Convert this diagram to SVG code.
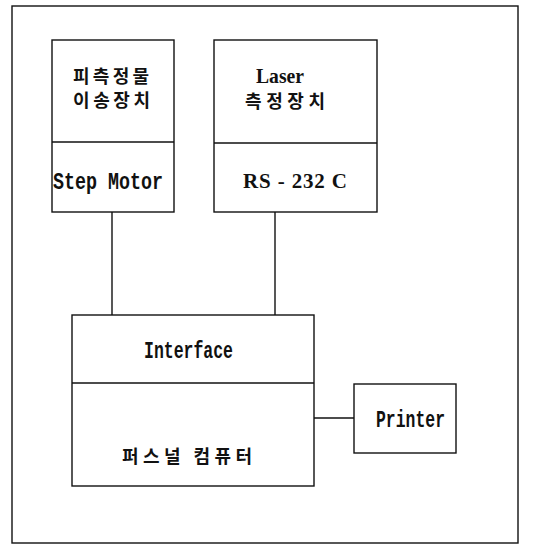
<svg xmlns="http://www.w3.org/2000/svg" width="538" height="553" viewBox="0 0 538 553">
<style>
.box{fill:none;stroke:#111;stroke-width:1.4}
.ln{fill:none;stroke:#111;stroke-width:1.4}
.ko{font-family:"Noto Sans CJK KR","Noto Sans",sans-serif;font-weight:bold;font-size:18px;fill:#111}
.mo{font-family:"Liberation Mono","DejaVu Sans Mono",monospace;font-weight:bold;font-size:23px;fill:#111}
.se{font-family:"Liberation Serif","DejaVu Serif",serif;font-weight:bold;font-size:21px;fill:#111}
</style>
<rect width="538" height="553" fill="#fff"/>
<g id="frame"><rect class="box" x="12" y="6" width="506" height="537"/></g>
<g id="transfer">
<rect class="box" x="52" y="40" width="122" height="172"/>
<line class="ln" x1="52" y1="142" x2="174" y2="142"/>
<text class="ko" x="73" y="83" textLength="76" lengthAdjust="spacing">피측정물</text>
<text class="ko" x="73" y="107" textLength="77" lengthAdjust="spacing">이송장치</text>
<text class="mo" x="53" y="189" textLength="110" lengthAdjust="spacingAndGlyphs">Step Motor</text>
</g>
<g id="laser">
<rect class="box" x="214" y="40" width="163" height="172"/>
<line class="ln" x1="214" y1="143" x2="377" y2="143"/>
<text class="se" x="256" y="83" textLength="48" lengthAdjust="spacingAndGlyphs">Laser</text>
<text class="ko" x="245" y="108" textLength="80" lengthAdjust="spacing">측정장치</text>
<text class="se" x="243" y="188" textLength="104" lengthAdjust="spacing">RS - 232 C</text>
</g>
<g id="pc">
<rect class="box" x="72" y="315" width="242" height="171"/>
<line class="ln" x1="72" y1="383" x2="314" y2="383"/>
<text class="mo" x="144" y="358" textLength="89" lengthAdjust="spacingAndGlyphs">Interface</text>
<text class="ko" x="122" y="463" textLength="130" lengthAdjust="spacing">퍼스널 컴퓨터</text>
</g>
<g id="printer">
<rect class="box" x="354" y="384" width="102" height="69"/>
<text class="mo" x="376" y="427" textLength="69" lengthAdjust="spacingAndGlyphs">Printer</text>
</g>
<g id="connectors">
<line class="ln" x1="112" y1="212" x2="112" y2="315"/>
<line class="ln" x1="275" y1="212" x2="275" y2="315"/>
<line class="ln" x1="314" y1="418" x2="354" y2="418"/>
</g>
</svg>
